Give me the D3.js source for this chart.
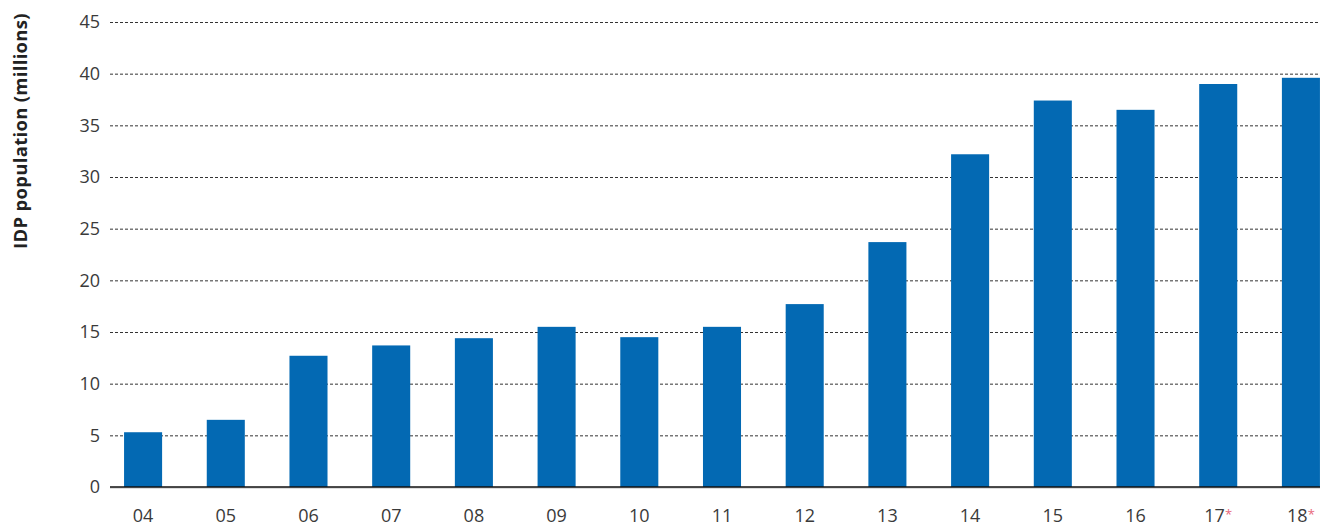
<!DOCTYPE html>
<html>
<head>
<meta charset="utf-8">
<script src="https://cdn.jsdelivr.net/npm/d3@7"></script>
<style>
  body { margin: 0; background: #fff; }
  svg { display: block; font-family: "Open Sans", sans-serif; }
</style>
</head>
<body>
<script>
// years (two digit) and IDP population in millions
const years = ['04', '05', '06', '07', '08', '09', '10', '11', '12', '13', '14', '15', '16', '17', '18']
const idp = [5.3, 6.5, 12.7, 13.7, 14.4, 15.5, 14.5, 15.5, 17.7, 23.7, 32.2, 37.4, 36.5, 39.0, 39.6]
const starred = ['17', '18']
const yTicks = [0, 5, 10, 15, 20, 25, 30, 35, 40, 45]

const width = 1325, height = 527
const margin = {top: 22, right: 5, bottom: 40, left: 110}

const svg = d3.select('body').append('svg')
    .attr('width', width)
    .attr('height', height)

// scales
const xScale = d3.scaleBand()
    .domain(years)
    .range([margin.left, 1334])
    .paddingInner(0.54)
    .paddingOuter(0.17)

const yScale = d3.scaleLinear()
    .domain([0, 45])
    .range([height - margin.bottom, margin.top])

// dashed gridlines
svg.append('g')
    .selectAll('line')
    .data(yTicks.filter(d => d > 0))
    .enter()
    .append('line')
        .attr('x1', margin.left)
        .attr('x2', width - margin.right)
        .attr('y1', d => yScale(d) + 0.5)
        .attr('y2', d => yScale(d) + 0.5)
        .attr('stroke', '#333')
        .attr('stroke-width', 1)
        .attr('stroke-dasharray', '3,2')

// y axis labels
const yAxis = svg.append('g')
    .attr('transform', 'translate(' + (margin.left - 10) + ',0)')
    .call(d3.axisLeft(yScale).tickValues(yTicks).tickSize(0).tickPadding(0))
yAxis.select('.domain').remove()
yAxis.selectAll('text')
    .style('font-size', '18px')
    .style('font-family', '"Open Sans", sans-serif')
    .attr('fill', '#3a3a3a')

// bars
svg.selectAll('.bar').data(years)
    .enter()
    .append('rect')
        .attr('class', 'bar')
        .attr('x', d => xScale(d))
        .attr('width', xScale.bandwidth())
        .attr('y', (d, i) => yScale(idp[i]))
        .attr('height', (d, i) => yScale(0) - yScale(idp[i]))
        .attr('fill', '#0369b3')

// baseline
svg.append('line')
    .attr('x1', margin.left)
    .attr('x2', width - margin.right)
    .attr('y1', yScale(0) + 1)
    .attr('y2', yScale(0) + 1)
    .attr('stroke', '#bbb')
    .attr('stroke-width', 1)
svg.append('line')
    .attr('x1', margin.left)
    .attr('x2', width - margin.right)
    .attr('y1', yScale(0))
    .attr('y2', yScale(0))
    .attr('stroke', '#111')
    .attr('stroke-width', 1.5)

// x axis labels
const xLabels = svg.append('g')
    .selectAll('text')
    .data(years)
    .enter()
    .append('text')
        .attr('x', d => xScale(d) + xScale.bandwidth() / 2)
        .attr('y', 522)
        .attr('text-anchor', 'middle')
        .style('font-size', '18px')
        .attr('fill', '#3a3a3a')
        .text(d => d)
xLabels.filter(d => starred.includes(d))
    .append('tspan')
        .attr('dy', -3)
        .attr('fill', '#e8677a')
        .style('font-size', '13px')
        .text('*')

// y axis title
svg.append('text')
    .attr('transform', 'translate(27,' + 131 + ')rotate(-90)')
    .attr('text-anchor', 'middle')
    .style('font-size', '18.5px')
    .style('font-weight', 'bold')
    .style('letter-spacing', '0.3px')
    .attr('fill', '#222')
    .text('IDP population (millions)')
</script>
</body>
</html>
